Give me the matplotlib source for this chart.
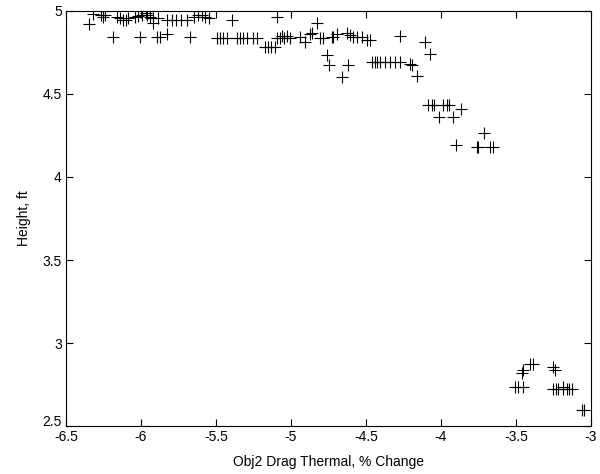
import numpy as np
import matplotlib
matplotlib.use('Agg')
import matplotlib.pyplot as plt
import matplotlib.transforms as mtransforms

plt.rcParams['font.family'] = ['Liberation Sans', 'DejaVu Sans']
plt.rcParams['axes.unicode_minus'] = False

# drag change (%) vs height (ft)
drag_change = [
    -6.35, -6.32, -6.27, -6.255, -6.24, -6.16, -6.14, -6.12, -6.10, -6.085,
    -6.04, -6.02, -5.995, -5.97, -5.96, -5.94, -5.92, -5.92, -5.885, -5.83,
    -5.795, -5.77, -6.185, -6.01, -5.895, -5.875, -5.83,
    -5.73, -5.69, -5.65, -5.62, -5.595, -5.573, -5.55, -5.395, -5.095, -5.673,
    -5.495, -5.473, -5.451, -5.429, -5.362, -5.34, -5.318, -5.296, -5.251, -5.229,
    -5.173, -5.153, -5.133, -5.107, -5.095, -5.073, -5.05, -5.007, -5.062, -5.029,
    -4.829, -4.94, -4.907, -4.873, -4.862, -4.807, -4.785, -4.729, -4.718, -4.695,
    -4.629, -4.607, -4.585, -4.562, -4.529, -4.495, -4.473, -4.273,
    -4.762, -4.745, -4.618, -4.662,
    -4.462, -4.44, -4.429, -4.407, -4.373, -4.34, -4.307, -4.273, -4.207, -4.195, -4.162,
    -4.107, -4.073, -4.085, -4.062, -4.047, -3.985, -3.962, -3.945, -3.869,
    -4.011, -3.922, -3.713, -3.9, -3.762, -3.751, -3.673, -3.651,
    -3.407, -3.385, -3.451, -3.462, -3.507, -3.485, -3.451, -3.251, -3.24,
    -3.251, -3.233, -3.218, -3.185, -3.162, -3.145, -3.129, -3.185,
    -3.062, -3.047,
]
height = [
    4.92, 4.98, 4.975, 4.965, 4.975, 4.965, 4.955, 4.945, 4.945, 4.955,
    4.965, 4.97, 4.975, 4.985, 4.975, 4.965, 4.955, 4.925, 4.955, 4.945,
    4.945, 4.945, 4.84, 4.84, 4.84, 4.84, 4.86,
    4.945, 4.945, 4.965, 4.975, 4.975, 4.965, 4.955, 4.945, 4.965, 4.84,
    4.835, 4.835, 4.835, 4.835, 4.835, 4.835, 4.835, 4.835, 4.835, 4.835,
    4.785, 4.785, 4.785, 4.785, 4.835, 4.835, 4.835, 4.835, 4.85, 4.85,
    4.926, 4.84, 4.815, 4.86, 4.865, 4.835, 4.835, 4.84, 4.845, 4.86,
    4.865, 4.855, 4.84, 4.84, 4.84, 4.825, 4.825, 4.85,
    4.735, 4.675, 4.675, 4.60,
    4.69, 4.69, 4.69, 4.69, 4.69, 4.69, 4.69, 4.69, 4.68, 4.675, 4.61,
    4.81, 4.74, 4.434, 4.434, 4.434, 4.434, 4.434, 4.434, 4.41,
    4.36, 4.36, 4.267, 4.193, 4.18, 4.18, 4.18, 4.18,
    2.872, 2.872, 2.837, 2.817, 2.737, 2.737, 2.737, 2.857, 2.84,
    2.721, 2.721, 2.721, 2.721, 2.721, 2.721, 2.721, 2.737,
    2.60, 2.60,
]

x_ticks = [-6.5, -6, -5.5, -5, -4.5, -4, -3.5, -3]
x_labels = ['-6.5', '-6', '-5.5', '-5', '-4.5', '-4', '-3.5', '-3']
y_ticks = [2.5, 3, 3.5, 4, 4.5, 5]
y_labels = ['2.5', '3', '3.5', '4', '4.5', '5']

fig = plt.figure(figsize=(6.0, 4.74), dpi=100)
ax = fig.add_axes([0.11, 0.101, 0.875, 0.876])

ax.plot(drag_change, height, '+', color='black', markersize=8, markeredgewidth=0.8)

ax.set_xlim(-6.5, -3)
ax.set_ylim(2.5, 5)
ax.set_xticks(x_ticks)
ax.set_xticklabels(x_labels)
ax.set_yticks(y_ticks)
ax.set_yticklabels(y_labels)
ax.tick_params(direction='in', top=True, right=True, length=5, width=0.8,
               labelsize=10)
ax.tick_params(axis='x', pad=3)
ax.tick_params(axis='y', pad=3)
for s in ax.spines.values():
    s.set_linewidth(0.8)

# the lowest y label sits just above "-6.5", nudge it up a touch
lbl = ax.get_yticklabels()[0]
lbl.set_transform(lbl.get_transform() +
                  mtransforms.ScaledTranslation(0, 4 / 72, fig.dpi_scale_trans))

ax.set_xlabel('Obj2 Drag Thermal, % Change', fontsize=10, labelpad=8)
ax.set_ylabel('Height, ft', fontsize=10, labelpad=8)

fig.savefig('out.png', dpi=100)
